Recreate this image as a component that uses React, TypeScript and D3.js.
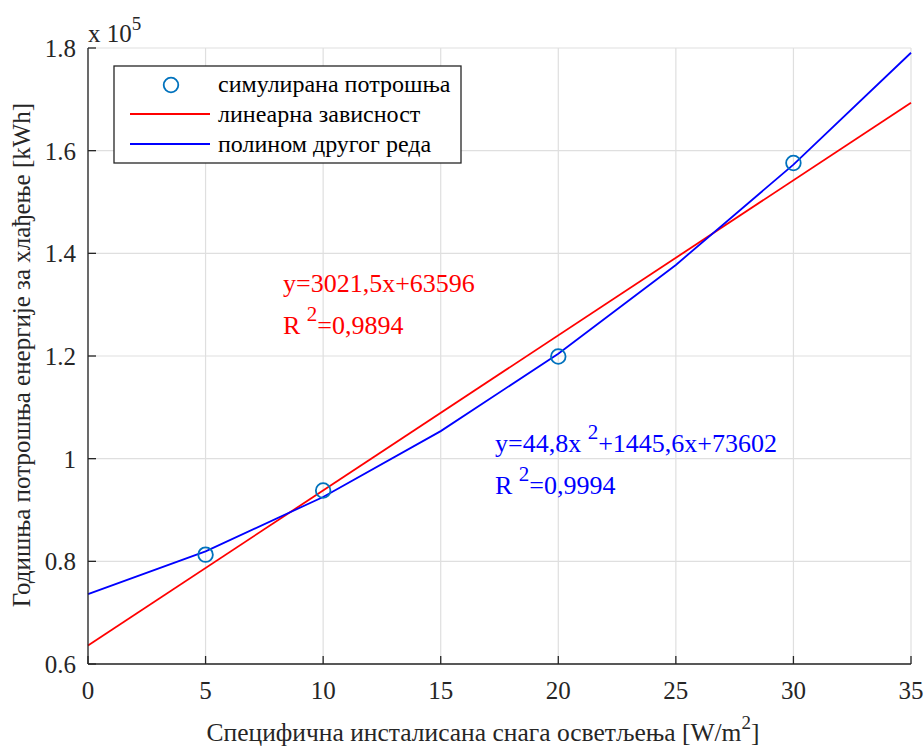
import React from "react";
import * as d3 from "d3";

const simX = [5, 10, 20, 30];
const simY = [81300, 93800, 119900, 157600];
const linX = [0, 35];
const linY = [63596, 169348];
const polyX = [0, 5, 10, 15, 20, 25, 30, 35];
const polyY = [73602, 81950, 92538, 105366, 120434, 137742, 157290, 179078];
const xTicks = [0, 5, 10, 15, 20, 25, 30, 35];
const yTicks = [60000, 80000, 100000, 120000, 140000, 160000, 180000];
const yTickLabels = ["0.6", "0.8", "1", "1.2", "1.4", "1.6", "1.8"];
const legendLabels = ["симулирана потрошња", "линеарна зависност", "полином другог реда"];

const W = 924, H = 747;
const L = 88, R = 911, T = 48, B = 664;
const FONT = `"Liberation Serif", "Times New Roman", serif`;

export default function App() {
  const x = d3.scaleLinear().domain([0, 35]).range([L, R]);
  const y = d3.scaleLinear().domain([60000, 180000]).range([B, T]);
  const line = d3.line<[number, number]>().x(d => x(d[0])).y(d => y(d[1]));
  const linPts = linX.map((v, i) => [v, linY[i]] as [number, number]);
  const polyPts = polyX.map((v, i) => [v, polyY[i]] as [number, number]);
  const axisC = "#262626";
  const gridC = "#dfdfdf";
  const ts = { fontFamily: FONT };

  return (
    <svg width={W} height={H} style={{ position: "absolute", left: 0, top: 0, background: "#fff" }}>
      <rect x={0} y={0} width={W} height={H} fill="#fff" />
      {xTicks.map(t => (
        <line key={"gx" + t} x1={x(t)} x2={x(t)} y1={T} y2={B} stroke={gridC} strokeWidth={1.2} />
      ))}
      {yTicks.map(t => (
        <line key={"gy" + t} x1={L} x2={R} y1={y(t)} y2={y(t)} stroke={gridC} strokeWidth={1.2} />
      ))}
      <path d={line(linPts) || ""} fill="none" stroke="#ff0000" strokeWidth={1.8} />
      <path d={line(polyPts) || ""} fill="none" stroke="#0000ff" strokeWidth={1.8} />
      {simX.map((v, i) => (
        <circle key={"p" + i} cx={x(v)} cy={y(simY[i])} r={7.3} fill="none" stroke="#0072BD" strokeWidth={1.8} />
      ))}
      <line x1={L} x2={R} y1={B} y2={B} stroke={axisC} strokeWidth={1.3} />
      <line x1={L} x2={L} y1={T} y2={B} stroke={axisC} strokeWidth={1.3} />
      {xTicks.map(t => (
        <g key={"xt" + t}>
          <line x1={x(t)} x2={x(t)} y1={B} y2={B - 8} stroke={axisC} strokeWidth={1.3} />
          <text style={ts} x={x(t)} y={B + 35} textAnchor="middle" fontSize={25} fill={axisC}>{t}</text>
        </g>
      ))}
      {yTicks.map((t, i) => (
        <g key={"yt" + t}>
          <line x1={L} x2={L + 8} y1={y(t)} y2={y(t)} stroke={axisC} strokeWidth={1.3} />
          <text style={ts} x={L - 12} y={y(t) + 9} textAnchor="end" fontSize={25} fill={axisC}>{yTickLabels[i]}</text>
        </g>
      ))}
      <text style={ts} x={88} y={42} fontSize={25} fill={axisC}>
        x 10<tspan dy={-12} fontSize={19}>5</tspan>
      </text>
      <text style={ts} x={483} y={741} textAnchor="middle" fontSize={25.5} fill={axisC}>
        Специфична инсталисана снага осветљења [W/m<tspan dy={-12} fontSize={19}>2</tspan><tspan dy={12}>]</tspan>
      </text>
      <text style={ts} transform={`translate(30, 355) rotate(-90)`} textAnchor="middle" fontSize={25} fill={axisC}>
        Годишња потрошња енергије за хлађење [kWh]
      </text>
      <rect x={114} y={66} width={347} height={97} fill="#fff" stroke={axisC} strokeWidth={1.3} />
      <circle cx={171} cy={85} r={7.3} fill="none" stroke="#0072BD" strokeWidth={1.8} />
      <line x1={130} x2={210} y1={114} y2={114} stroke="#ff0000" strokeWidth={1.8} />
      <line x1={130} x2={210} y1={144} y2={144} stroke="#0000ff" strokeWidth={1.8} />
      {legendLabels.map((s, i) => (
        <text style={ts} key={"lg" + i} x={218} y={92 + i * 30} fontSize={24} fill="#000">{s}</text>
      ))}
      <text style={ts} x={283} y={292} fontSize={26} fill="#ff0000">y=3021,5x+63596</text>
      <text style={ts} x={283} y={334} fontSize={26} fill="#ff0000">
        R <tspan dy={-13} fontSize={21}>2</tspan><tspan dy={13}>=0,9894</tspan>
      </text>
      <text style={ts} x={495} y={452} fontSize={26} fill="#0000ff">
        y=44,8x <tspan dy={-13} fontSize={21}>2</tspan><tspan dy={13}>+1445,6x+73602</tspan>
      </text>
      <text style={ts} x={495} y={494} fontSize={26} fill="#0000ff">
        R <tspan dy={-13} fontSize={21}>2</tspan><tspan dy={13}>=0,9994</tspan>
      </text>
    </svg>
  );
}
